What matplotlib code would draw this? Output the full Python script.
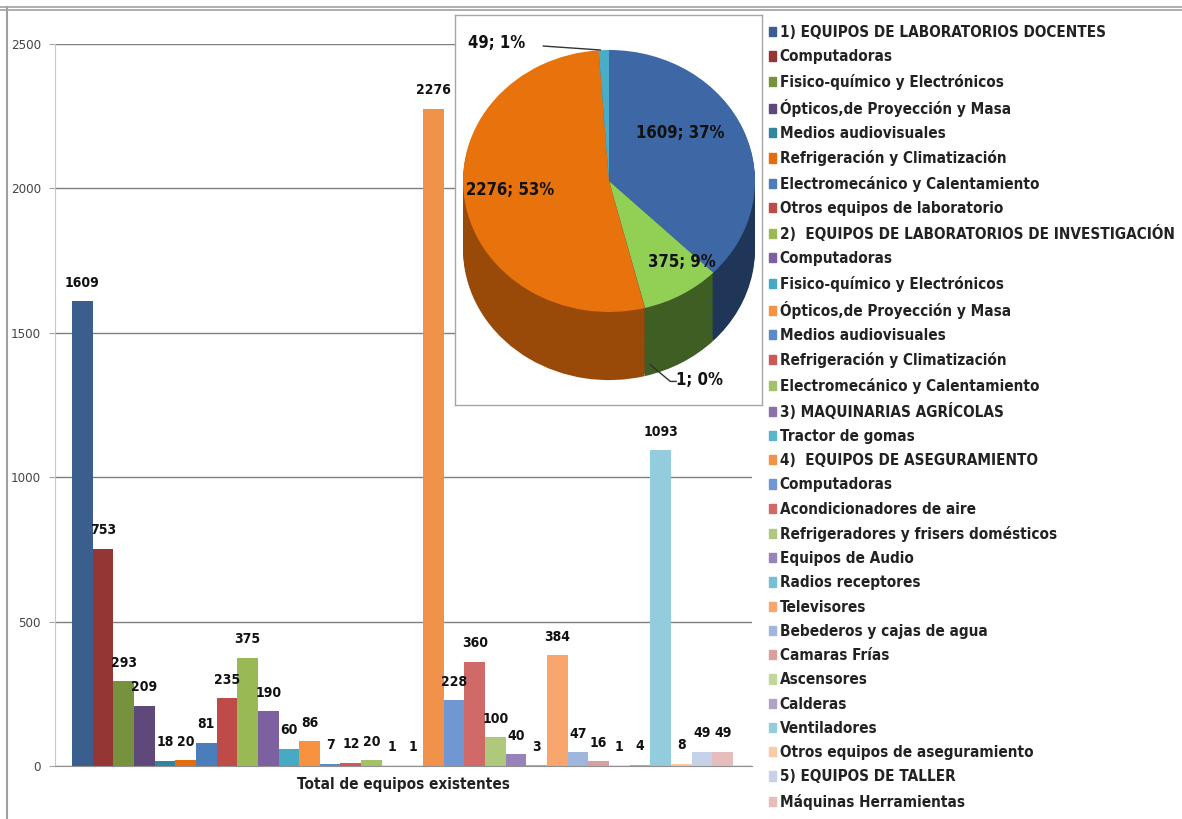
import matplotlib
matplotlib.use("Agg")
import matplotlib.pyplot as plt
import matplotlib.font_manager as fm
import numpy as np
from matplotlib.lines import Line2D

# pick a narrow font if one is around, otherwise shrink the text a bit
_names = {f.name for f in fm.fontManager.ttflist}
_cond = [f for f in fm.fontManager.ttflist
         if f.name == 'DejaVu Sans' and 'condensed' in str(f.stretch)]
if 'Liberation Sans Narrow' in _names:
    plt.rcParams['font.family'] = ['Liberation Sans Narrow', 'DejaVu Sans']
    K = 1.0
elif _cond:
    plt.rcParams['font.family'] = ['DejaVu Sans']
    plt.rcParams['font.stretch'] = 'condensed'
    K = 1.0
else:
    plt.rcParams['font.family'] = ['DejaVu Sans']
    K = 0.9

# ---- data ----
categories = [
    "1) EQUIPOS DE LABORATORIOS DOCENTES",
    "Computadoras",
    "Fisico-químico y Electrónicos",
    "Ópticos,de Proyección y Masa",
    "Medios audiovisuales",
    "Refrigeración y Climatización",
    "Electromecánico y Calentamiento",
    "Otros equipos de laboratorio",
    "2)  EQUIPOS DE LABORATORIOS DE INVESTIGACIÓN",
    "Computadoras",
    "Fisico-químico y Electrónicos",
    "Ópticos,de Proyección y Masa",
    "Medios audiovisuales",
    "Refrigeración y Climatización",
    "Electromecánico y Calentamiento",
    "3) MAQUINARIAS AGRÍCOLAS",
    "Tractor de gomas",
    "4)  EQUIPOS DE ASEGURAMIENTO",
    "Computadoras",
    "Acondicionadores de aire",
    "Refrigeradores y frisers domésticos",
    "Equipos de Audio",
    "Radios receptores",
    "Televisores",
    "Bebederos y cajas de agua",
    "Camaras Frías",
    "Ascensores",
    "Calderas",
    "Ventiladores",
    "Otros equipos de aseguramiento",
    "5) EQUIPOS DE TALLER",
    "Máquinas Herramientas",
]
values = [1609, 753, 293, 209, 18, 20, 81, 235, 375, 190, 60, 86, 7, 12, 20, 1,
          1, 2276, 228, 360, 100, 40, 3, 384, 47, 16, 1, 4, 1093, 8, 49, 49]

bar_colors = [
    '#3A5F8F', '#943634', '#76923C', '#5F497A', '#31859C', '#E46C0A',
    '#4A7EBB', '#BE4B48', '#98B954', '#7D60A0', '#46AAC5', '#F69240',
    '#5B8BC6', '#C95A57', '#A3C166', '#8B71AC', '#59B4CC', '#F0924A',
    '#7097D2', '#D06A68', '#AEC97C', '#9882BA', '#77C0D4', '#F9A56E',
    '#A0B6DD', '#D9A09F', '#C4D79B', '#B3A2C7', '#93CDDD', '#FBCBA6',
    '#C6D1EA', '#E6BDBC',
]

pie_values = [1609, 375, 1, 2276, 49]
pie_labels = ["1609; 37%", "375; 9%", "1; 0%", "2276; 53%", "49; 1%"]
pie_top = ['#3D68A5', '#92CF55', '#8064A2', '#E8720C', '#4BACC6']
pie_side = ['#1F3658', '#3F5E24', '#4A3A60', '#9A4A08', '#2A6F80']

W, H = 1182, 819
fig = plt.figure(figsize=(W / 100, H / 100), dpi=100)

# ---- bar chart ----
ax = fig.add_axes([55 / W, 1 - 766 / H, 697 / W, 722 / H])
x = np.arange(len(values))
ax.bar(x, values, width=1.0, color=bar_colors, linewidth=0, zorder=2)
for xi, v in zip(x, values):
    ax.text(xi, v + 40, str(v), ha='center', va='bottom', fontsize=10 * K,
            fontweight='bold', color='#111111', zorder=3)

ax.set_xlim(-1.32, len(values) - 0.5 + 0.92)
ax.set_ylim(0, 2500)
ax.set_yticks(np.arange(0, 2501, 500))
ax.tick_params(axis='y', labelsize=9.5 * K, labelcolor='#444444', length=4,
               color='#A6A6A6', pad=6)
ax.set_xticks([])
ax.grid(axis='y', color='#7F7F7F', linewidth=1, zorder=0)
ax.set_axisbelow(True)
for s in ['top', 'right']:
    ax.spines[s].set_visible(False)
ax.spines['left'].set_color('#C8C8C8')
ax.spines['bottom'].set_color('#909090')
ax.set_xlabel("Total de equipos existentes", fontsize=11 * K, fontweight='bold',
              color='#222222', labelpad=8)

# ---- legend ----
handles = [plt.Rectangle((0, 0), 1, 1, color=c) for c in bar_colors]
leg = fig.legend(handles, categories, loc='upper left',
                 bbox_to_anchor=(763 / W, 1 - 19 / H), frameon=False,
                 handlelength=0.45, handleheight=0.55,
                 handletextpad=0.25, labelspacing=0.605 / K, borderaxespad=0,
                 prop={'weight': 'bold', 'size': 11 * K})
for t in leg.get_texts():
    t.set_color('#222222')

# ---- 3D-like pie inset ----
pax = fig.add_axes([455 / W, 1 - 405 / H, 307 / W, 390 / H])
depth = 0.52
for d in np.linspace(depth, 0.01, 30):
    pax.pie(pie_values, colors=pie_side, startangle=90, counterclock=False,
            center=(0, -d), frame=True, wedgeprops=dict(linewidth=0))
pax.pie(pie_values, colors=pie_top, startangle=90, counterclock=False,
        center=(0, 0), frame=True, wedgeprops=dict(linewidth=0))
pax.set_aspect('auto')
pax.set_xlim(-1.055, 1.048)
pax.set_ylim(-1.71, 1.267)
pax.set_xticks([])
pax.set_yticks([])
for s in pax.spines.values():
    s.set_color('#A6A6A6')
    s.set_linewidth(1)

label_xy = [(0.49, 0.37), (0.50, -0.62), (0.62, -1.52), (-0.68, -0.07), (-0.77, 1.05)]
for lab, (lx, ly) in zip(pie_labels, label_xy):
    pax.text(lx, ly, lab, ha='center', va='center', fontsize=12 * K,
             fontweight='bold', color='#111111')
pax.plot([-0.45, -0.06], [1.03, 1.0], color='#333333', lw=1)
pax.plot([0.28, 0.42, 0.46], [-1.40, -1.53, -1.53], color='#333333', lw=1)

# ---- outer border ----
fig.add_artist(Line2D([0, 1], [1 - 7 / H, 1 - 7 / H], color='#A0A0A0', lw=1.2))
fig.add_artist(Line2D([0, 1], [1 - 10 / H, 1 - 10 / H], color='#A0A0A0', lw=1.2))
fig.add_artist(Line2D([7 / W, 7 / W], [0, 1 - 7 / H], color='#A0A0A0', lw=1.5))

fig.savefig("out.png", dpi=100)
